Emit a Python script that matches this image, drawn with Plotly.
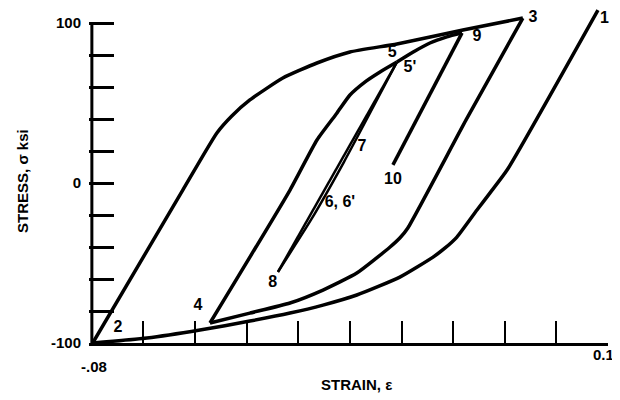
import plotly.graph_objects as go

# --- Branches of the hysteresis loop (strain, stress ksi) ---
branche_1_2_x = [0.0965, 0.0648, 0.0588, 0.0543, 0.0473, 0.0432, 0.0390, 0.0274, 0.0124, 0.0006, -0.0109, -0.0249, -0.0423, -0.0608, -0.0797]
branche_1_2_y = [108.1, 8.1, -6.3, -16.9, -33.8, -40.6, -46.3, -58.8, -70.0, -76.3, -81.3, -86.3, -91.9, -96.9, -100.0]

branche_2_3_x = [-0.0797, -0.0483, -0.0364, -0.0312, -0.0249, -0.0134, -0.0015, 0.0100, 0.0264, 0.0494, 0.0703]
branche_2_3_y = [-100.0, -4.4, 31.3, 41.9, 51.9, 65.6, 75.0, 81.9, 86.9, 95.6, 103.1]

branche_3_4_x = [0.0703, 0.0505, 0.0302, 0.0274, 0.0240, 0.0124, 0.0006, -0.0109, -0.0249, -0.0388]
branche_3_4_y = [103.1, 39.4, -28.1, -34.4, -40.0, -56.3, -66.9, -75.0, -81.3, -87.5]

branche_4_5_x = [-0.0388, -0.0109, -0.0015, 0.0055, 0.0100, 0.0152, 0.0205, 0.0264]
branche_4_5_y = [-87.5, -4.4, 26.9, 43.8, 55.0, 63.1, 69.4, 75.6]

branche_5_9_x = [0.0264, 0.0327, 0.0379, 0.0438, 0.0491]
branche_5_9_y = [75.6, 82.5, 87.5, 91.3, 93.8]

branche_9_10_x = [0.0491, 0.0250]
branche_9_10_y = [93.8, 11.3]

branche_5_8_x = [0.0264, -0.0151]
branche_5_8_y = [75.6, -55.6]

branche_8_5p_x = [-0.0151, -0.0036, 0.0079, 0.0264]
branche_8_5p_y = [-55.6, -23.1, 13.1, 75.6]

# --- Point labels ---
points_texte = ["1", "3", "9", "5", "5'", "7", "6, 6'", "10", "8", "4", "2"]
points_x = [0.0988, 0.0738, 0.0543, 0.0247, 0.0309, 0.0142, 0.0065, 0.0250, -0.0169, -0.0430, -0.0709]
points_y = [102.8, 103.1, 91.3, 81.3, 71.9, 22.5, -12.5, 1.9, -62.5, -76.9, -90.6]

# --- Axes ---
x_ticks = [-0.08 + 0.018 * i for i in range(11)]
x_tick_labels = ["-.08", "0.1"]
y_ticks = list(range(-100, 101, 20))
y_tick_labels = ["-100" if v == -100 else "0" if v == 0 else "100" if v == 100 else "" for v in y_ticks]

police = "Liberation Sans, Arial, sans-serif"
texte = dict(family=police, size=15, color='black', weight='bold')

fig = go.Figure()

branches = [
    (branche_1_2_x, branche_1_2_y, 3.5),
    (branche_2_3_x, branche_2_3_y, 3.5),
    (branche_3_4_x, branche_3_4_y, 3.5),
    (branche_4_5_x, branche_4_5_y, 3.5),
    (branche_5_9_x, branche_5_9_y, 3.5),
    (branche_9_10_x, branche_9_10_y, 3.5),
    (branche_5_8_x, branche_5_8_y, 2.5),
    (branche_8_5p_x, branche_8_5p_y, 2.5),
]
for bx, by, w in branches:
    fig.add_trace(go.Scatter(
        x=bx, y=by, mode='lines',
        line=dict(color='black', width=w, shape='spline', smoothing=0.5),
        hoverinfo='skip', showlegend=False
    ))

fig.add_trace(go.Scatter(
    x=points_x, y=points_y, mode='text', text=points_texte,
    textfont=dict(family=police, size=16, color='black', weight='bold'),
    cliponaxis=False, hoverinfo='skip', showlegend=False
))

# axe vertical limité à [-100, 100]
fig.add_shape(type='line', xref='x', yref='y', x0=-0.08, x1=-0.08, y0=-100, y1=100,
              line=dict(color='black', width=3))

fig.add_annotation(xref='paper', yref='paper', x=0.0096, y=-0.0687, text=x_tick_labels[0],
                   showarrow=False, xanchor='center', yanchor='middle', font=texte)
fig.add_annotation(xref='paper', yref='paper', x=0.992, y=-0.0358, text=x_tick_labels[1],
                   showarrow=False, xanchor='center', yanchor='middle', font=texte)
fig.add_annotation(xref='paper', yref='paper', x=0.516, y=-0.125, text="STRAIN, ε",
                   showarrow=False, xanchor='center', yanchor='middle', font=texte)
fig.add_annotation(xref='paper', yref='paper', x=-0.127, y=0.484, text="STRESS, σ ksi",
                   textangle=-90, showarrow=False, xanchor='center', yanchor='middle', font=texte)

# la page ajoute une marge de 8 px : figure réduite d'autant
fig.update_layout(
    width=612, height=392,
    margin=dict(l=81, r=12, t=0, b=57),
    plot_bgcolor='white', paper_bgcolor='white',
    xaxis=dict(
        range=[-0.081, 0.1], tickvals=x_ticks, ticktext=[""] * len(x_ticks),
        ticks='inside', ticklen=22, tickwidth=2, tickcolor='black',
        showline=True, linecolor='black', linewidth=2.5,
        showgrid=False, zeroline=False, fixedrange=True
    ),
    yaxis=dict(
        range=[-100, 109.375], tickvals=y_ticks, ticktext=y_tick_labels,
        ticks='inside', ticklen=25, tickwidth=2.5, tickcolor='black',
        showline=False, showgrid=False, zeroline=False,
        tickfont=texte, ticklabelstandoff=7, fixedrange=True
    ),
)

fig.write_html("out.html")
